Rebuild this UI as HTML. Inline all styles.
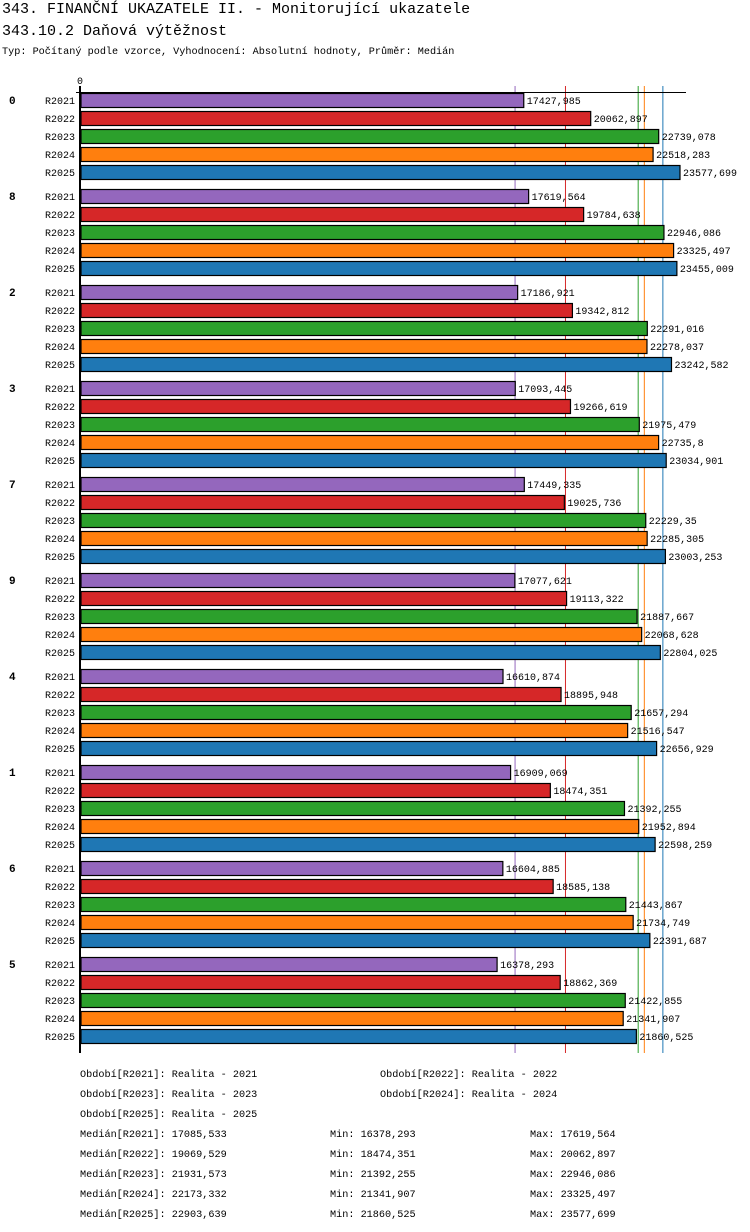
<!DOCTYPE html>
<html><head><meta charset="utf-8"><style>
body{margin:0;background:#fff;width:750px;height:1232px;overflow:hidden}
svg{display:block;font-family:"Liberation Mono","DejaVu Sans Mono",monospace}
</style></head><body>
<svg id="c" width="750" height="1232" xmlns="http://www.w3.org/2000/svg">
<text x="2" y="13" font-size="15">343. FINANČNÍ UKAZATELE II. - Monitorující ukazatele</text>
<text x="2" y="35" font-size="15">343.10.2 Daňová výtěžnost</text>
<text x="2" y="54" font-size="10.2">Typ: Počítaný podle vzorce, Vyhodnocení: Absolutní hodnoty, Průměr: Medián</text>
<g id="plot"></g>
<g id="foot" font-size="10.2"></g>
</svg>
<script>
const groups=["0","8","2","3","7","9","4","1","6","5"];
const series=["R2021","R2022","R2023","R2024","R2025"];
const colors=["#9467bd","#d62728","#2ca02c","#ff7f0e","#1f77b4"];
const v2021=[17427.985,17619.564,17186.921,17093.445,17449.335,17077.621,16610.874,16909.069,16604.885,16378.293];
const v2022=[20062.897,19784.638,19342.812,19266.619,19025.736,19113.322,18895.948,18474.351,18585.138,18862.369];
const v2023=[22739.078,22946.086,22291.016,21975.479,22229.35,21887.667,21657.294,21392.255,21443.867,21422.855];
const v2024=[22518.283,23325.497,22278.037,22735.8,22285.305,22068.628,21516.547,21952.894,21734.749,21341.907];
const v2025=[23577.699,23455.009,23242.582,23034.901,23003.253,22804.025,22656.929,22598.259,22391.687,21860.525];
const medians=[17085.533,19069.529,21931.573,22173.332,22903.639];
const mins=[16378.293,18474.351,21392.255,21341.907,21860.525];
const maxs=[17619.564,20062.897,22946.086,23325.497,23577.699];
const vals=[v2021,v2022,v2023,v2024,v2025];
const NS="http://www.w3.org/2000/svg";
const x0=81, xs=(680-81)/23577.699;
const X=v=>x0+v*xs;
const Y=(g,s)=>93+g*96+s*18;
const fmt=v=>String(+v.toFixed(3)).replace('.',',');
function mk(t,a,p){const e=document.createElementNS(NS,t);for(const k in a)e.setAttribute(k,a[k]);p.appendChild(e);return e;}
const plot=document.getElementById('plot');
// median lines
medians.forEach((m,i)=>{
 const l=mk('line',{x1:X(m),x2:X(m),y1:86,y2:1053,stroke:colors[i],'stroke-width':1},plot);
 
 
});
const zt=mk('text',{x:80,y:84,'font-size':10,'text-anchor':'middle'},plot);zt.textContent='0';


groups.forEach((g,gi)=>{
 const gt=mk('text',{x:9,y:Y(gi,0)+11,'font-size':11,'font-weight':'bold'},plot);gt.textContent=g;
 
 
 series.forEach((s,si)=>{
  const y=Y(gi,si),v=vals[si][gi];
  const ct=mk('text',{x:75,y:y+11,'font-size':10,'text-anchor':'end'},plot);ct.textContent=s;
  
  
  const r=mk('rect',{x:x0,y:y+0.5,width:X(v)-x0,height:14,fill:colors[si],stroke:'#000','stroke-width':1.2},plot);
  
  
  const vt=mk('text',{x:X(v)+3,y:y+11,'font-size':10},plot);vt.textContent=fmt(v);
  
  
 });
});
const ax=mk('line',{x1:80,x2:80,y1:86,y2:1053,stroke:'#000','stroke-width':2},plot);


const tl=mk('line',{x1:76,x2:686,y1:92.5,y2:92.5,stroke:'#000','stroke-width':1},plot);


const foot=document.getElementById('foot');
const legendNames=["Realita - 2021","Realita - 2022","Realita - 2023","Realita - 2024","Realita - 2025"];
legendNames.forEach((n,i)=>{
 const t=mk('text',{x:i%2?380:80,y:1077+Math.floor(i/2)*20},foot);t.textContent='Období['+series[i]+']: '+n;
 
 
});
series.forEach((s,i)=>{
 const y=1137+i*20;
 const a=mk('text',{x:80,y:y},foot);a.textContent='Medián['+s+']: '+fmt(medians[i]);
 
 
 const b=mk('text',{x:330,y:y},foot);b.textContent='Min: '+fmt(mins[i]);
 
 
 const c=mk('text',{x:530,y:y},foot);c.textContent='Max: '+fmt(maxs[i]);
 
 
});
</script>
</body></html>
